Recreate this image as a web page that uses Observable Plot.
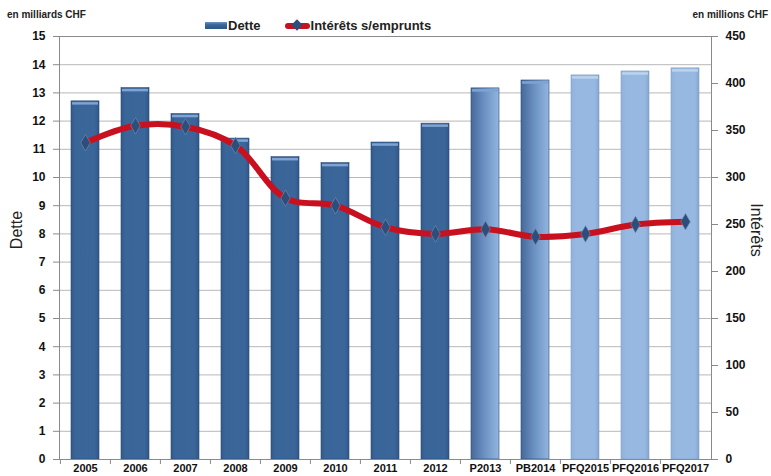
<!DOCTYPE html>
<html>
<head>
<meta charset="utf-8">
<script src="https://cdn.jsdelivr.net/npm/d3@7"></script>
<script src="https://cdn.jsdelivr.net/npm/@observablehq/plot@0.6"></script>
<style>
  html, body { margin: 0; padding: 0; background: #fff; }
  #wrap { position: relative; width: 771px; height: 476px; font-family: "Liberation Sans", Arial, sans-serif; }
  #wrap svg { position: absolute; left: 0; top: 0; }
  .note { position: absolute; top: 9px; font-size: 10px; font-weight: bold; color: #222; white-space: nowrap; }
  .legend { position: absolute; top: 18px; left: 205px; font-size: 13px; font-weight: bold; color: #222; display: flex; align-items: center; white-space: nowrap; }
  .sw-bar { display: inline-block; width: 22px; height: 7px; background: linear-gradient(#6a93c8, #3a6599 40%, #2f5686); margin-right: 1px; }
  .sw-line { position: relative; display: inline-block; width: 25px; height: 6px; background: #c8101e; border-radius: 3px; margin: 0 1px 0 24px; }
  .sw-line::after { content: ""; position: absolute; left: 8px; top: -2px; width: 8px; height: 8px; background: #2d4e78; transform: rotate(45deg); }
  .ylab { position: absolute; font-size: 16px; color: #222; white-space: nowrap; }
</style>
</head>
<body>
<div id="wrap">
  <div class="note" style="left:7px">en milliards CHF</div>
  <div class="note" style="right:3px">en millions CHF</div>
  <div class="legend"><span class="sw-bar"></span>Dette<span class="sw-line"></span>Intérêts s/emprunts</div>
  <div class="ylab" style="left:-2px; top:221px; transform: rotate(-90deg);">Dette</div>
  <div class="ylab" style="left:729px; top:221px; transform: rotate(90deg);">Intérêts</div>
</div>
<script>
const categories = ["2005","2006","2007","2008","2009","2010","2011","2012","P2013","PB2014","PFQ2015","PFQ2016","PFQ2017"];
const dette = [12.7, 13.17, 12.25, 11.38, 10.72, 10.51, 11.24, 11.91, 13.16, 13.44, 13.62, 13.76, 13.87];
const interets = [337, 355, 354, 334, 278, 270, 247, 240, 245, 237, 240, 250, 253];
const kinds = ["hist","hist","hist","hist","hist","hist","hist","hist","trans","trans","proj","proj","proj"];
const leftTicks = d3.range(0, 16);
const rightTicks = [0, 50, 100, 150, 200, 250, 300, 350, 400, 450];

const ratio = 450 / 15;
const data = categories.map((c, i) => ({cat: c, dette: dette[i], int: interets[i] / ratio, kind: kinds[i]}));

const width = 771, height = 476, mL = 59, mR = 60;
const step = (width - mL - mR) / categories.length;

const chart = Plot.plot({
  width, height,
  marginTop: 36, marginBottom: 17, marginLeft: mL, marginRight: mR,
  style: {fontFamily: "'Liberation Sans', Arial, sans-serif", color: "#111", background: "transparent"},
  x: {type: "band", domain: categories, paddingInner: 0.44, paddingOuter: 0.22, label: null},
  y: {domain: [0, 15], label: null},
  marks: [
    Plot.gridY(leftTicks, {stroke: "#b8b8b8", strokeOpacity: 1, strokeWidth: 1}),
    Plot.barY(data, {x: "cat", y: "dette", fill: d => `url(#g-${d.kind})`, stroke: d => d.kind === "proj" ? "#7f9fc6" : "#2a4a73", strokeWidth: 0.6}),
    Plot.tickY(data, {x: "cat", y: "dette", dy: 2, stroke: d => d.kind === "proj" ? "#bcd3ee" : "#7fa3d2", strokeWidth: 2.5, inset: 1}),
    Plot.line(data, {x: "cat", y: "int", stroke: "#c8101e", strokeWidth: 6, curve: "catmull-rom"}),
    Plot.dot(data, {x: "cat", y: "int", symbol: "diamond", r: 5, fill: "#2d4e78", stroke: "#7090bb", strokeWidth: 0.6}),
    Plot.frame({stroke: "#8a8a8a"}),
    Plot.axisY(leftTicks, {anchor: "left", tickSize: 6, tickPadding: 8, fontSize: 12, fontWeight: "bold", stroke: "#8a8a8a", label: null}),
    Plot.axisY(rightTicks.map(v => v / ratio), {anchor: "right", tickSize: 6, tickPadding: 8, fontSize: 12, fontWeight: "bold", stroke: "#8a8a8a", tickFormat: d => String(Math.round(d * ratio)), label: null}),
    Plot.axisX({tickSize: 0, tickPadding: 5, fontSize: 11, fontWeight: "bold", label: null}),
    Plot.axisX({tickSize: 5, dx: -step / 2, stroke: "#8a8a8a", tickFormat: () => "", label: null})
  ]
});

const svg = d3.select(chart);
const defs = svg.insert("defs", ":first-child");
function grad(id, stops) {
  const g = defs.append("linearGradient").attr("id", id).attr("x1", 0).attr("x2", 1).attr("y1", 0).attr("y2", 0);
  stops.forEach(([o, c]) => g.append("stop").attr("offset", o).attr("stop-color", c));
}
grad("g-hist", [[0, "#32598a"], [0.15, "#3a6599"], [0.85, "#3b669a"], [1, "#30568a"]]);
grad("g-trans", [[0, "#46699a"], [0.5, "#6d93c4"], [1, "#93b5df"]]);
grad("g-proj", [[0, "#8fb1da"], [0.2, "#97b9e1"], [0.85, "#97b9e1"], [1, "#83a5cf"]]);

document.getElementById("wrap").prepend(chart);
</script>
</body>
</html>
